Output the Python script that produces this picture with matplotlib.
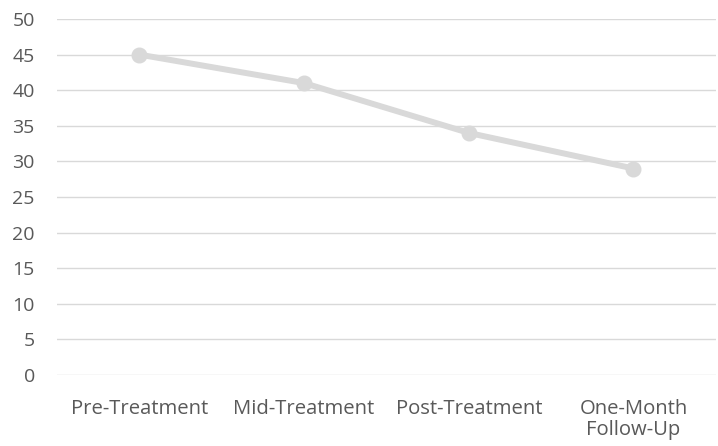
import matplotlib
matplotlib.use('Agg')
import matplotlib.pyplot as plt

# Data
categories = ['Pre-Treatment', 'Mid-Treatment', 'Post-Treatment', 'One-Month\nFollow-Up']
values = [45, 41, 34, 29]
y_ticks = list(range(0, 55, 5))

plt.rcParams['font.family'] = ['Open Sans', 'DejaVu Sans']

fig = plt.figure(figsize=(7.18, 4.46), dpi=100)
ax = fig.add_axes([0.0794, 0.1592, 0.9176, 0.7982])

x = list(range(len(categories)))
ax.plot(x, values, color='#D9D9D9', linewidth=4.3, marker='o',
        markersize=10.5, solid_capstyle='round', zorder=3)

ax.set_xlim(-0.5, len(categories) - 0.5)
ax.set_ylim(0, 50)
ax.set_yticks(y_ticks)
ax.set_xticks(x)
ax.set_xticklabels(categories, linespacing=1.1)
ax.yaxis.grid(True, color='#D9D9D9', linewidth=1.0)
ax.set_axisbelow(True)

for side in ['top', 'right', 'left', 'bottom']:
    ax.spines[side].set_visible(False)
ax.tick_params(axis='both', length=0, colors='#595959')
ax.tick_params(axis='y', pad=16, labelsize=14)
ax.tick_params(axis='x', pad=17, labelsize=14.6)

fig.savefig('out.png', dpi=100)
